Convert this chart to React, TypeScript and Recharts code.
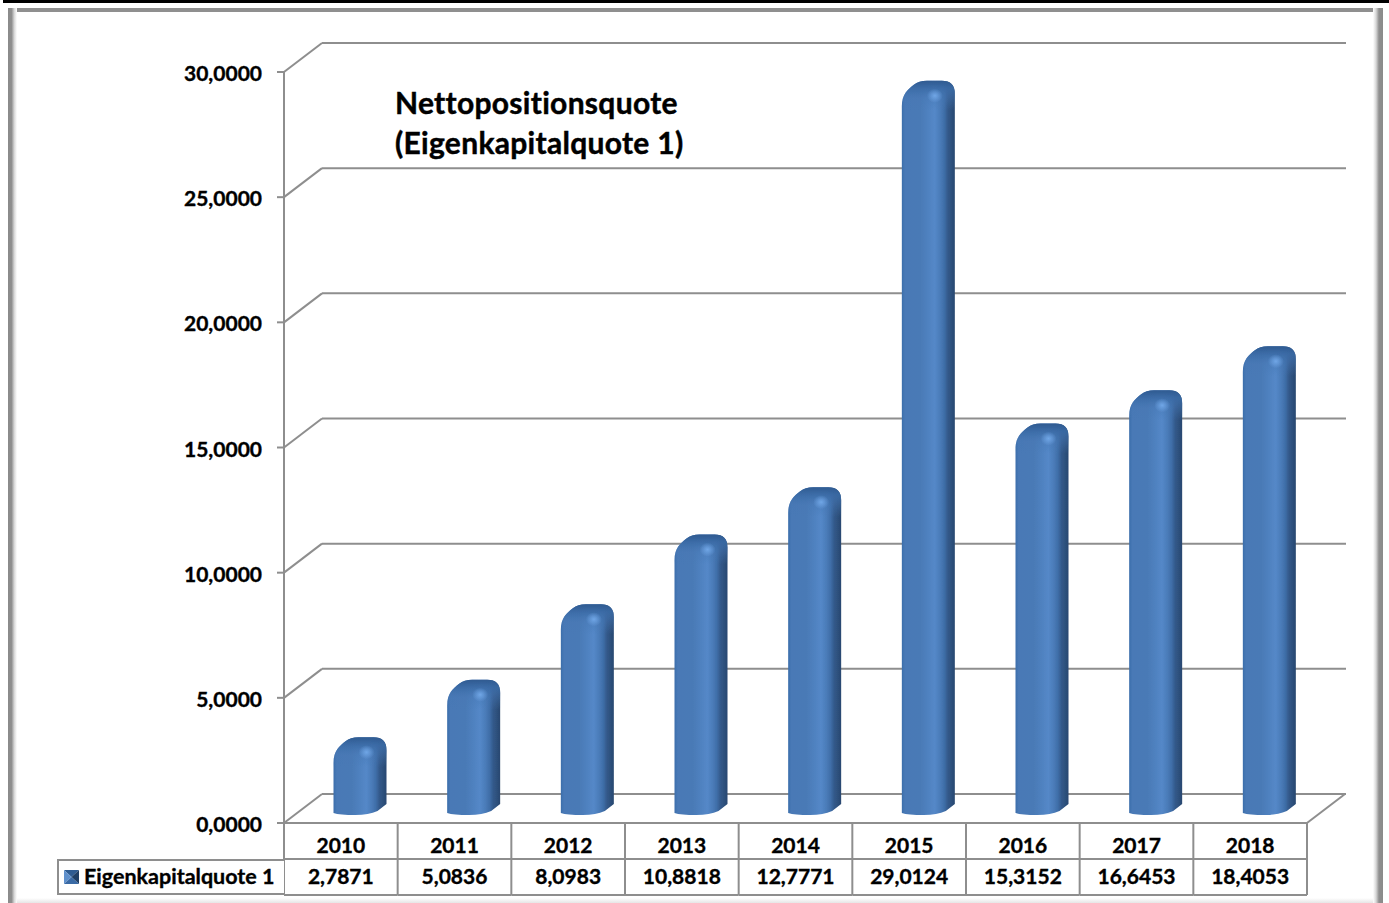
import React from "react";
import { BarChart, Bar, XAxis, YAxis, Legend, CartesianGrid } from "recharts";

const categories = ["2010", "2011", "2012", "2013", "2014", "2015", "2016", "2017", "2018"];
const values = [2.7871, 5.0836, 8.0983, 10.8818, 12.7771, 29.0124, 15.3152, 16.6453, 18.4053];
const valueLabels = ["2,7871", "5,0836", "8,0983", "10,8818", "12,7771", "29,0124", "15,3152", "16,6453", "18,4053"];
const yTicks = [0, 5, 10, 15, 20, 25, 30];
const yTickLabels = ["0,0000", "5,0000", "10,0000", "15,0000", "20,0000", "25,0000", "30,0000"];
const seriesName = "Eigenkapitalquote 1";
const titleLines = ["Nettopositionsquote", "(Eigenkapitalquote 1)"];

const data = categories.map((year, i) => ({ year, value: values[i] }));

const FONT = "Lato, Carlito, Calibri, sans-serif";
const LINE = "#8e8e8e";
const W = 1389;
const H = 903;
const LEFT = 284;
const RIGHT = 1307;
const TOP = 72;
const ZERO = 823;
const DX = 38;
const DY = 29;
const BAND = (RIGHT - LEFT) / categories.length;

const textStyle: any = { fontVariantLigatures: "none", paintOrder: "stroke" };
const labelProps: any = {
  fontFamily: FONT,
  fontWeight: 700,
  fontSize: 21,
  fill: "#000",
  stroke: "#000",
  strokeWidth: 0.35,
  style: textStyle,
};

function GridRow(props: any) {
  const y = props.y1;
  const isZero = Math.abs(y - ZERO) < 1;
  return (
    <g>
      <line x1={LEFT} y1={y} x2={LEFT + DX} y2={y - DY} stroke={LINE} strokeWidth={2} />
      <line x1={LEFT + DX} y1={y - DY} x2={RIGHT + DX + 1} y2={y - DY} stroke={LINE} strokeWidth={2} />
      {isZero && <line x1={RIGHT} y1={y} x2={RIGHT + DX} y2={y - DY} stroke={LINE} strokeWidth={2} />}
    </g>
  );
}

function YTick(props: any) {
  const { y, payload } = props;
  const idx = yTicks.indexOf(payload.value);
  return (
    <g>
      <line x1={LEFT - 7} y1={y} x2={LEFT} y2={y} stroke={LINE} strokeWidth={2} />
      <text x={262} y={y + 9} textAnchor="end" {...labelProps}>
        {yTickLabels[idx]}
      </text>
    </g>
  );
}

function XTick(props: any) {
  const { x, payload, index } = props;
  const i = index ?? categories.indexOf(payload.value);
  const left = x - BAND / 2;
  return (
    <g>
      <line x1={left + BAND} y1={ZERO} x2={left + BAND} y2={895} stroke={LINE} strokeWidth={2} />
      {i === 0 && <line x1={left} y1={ZERO} x2={left} y2={895} stroke={LINE} strokeWidth={2} />}
      <line x1={left} y1={859} x2={left + BAND} y2={859} stroke={LINE} strokeWidth={2} />
      <line x1={left} y1={895} x2={left + BAND} y2={895} stroke={LINE} strokeWidth={2} />
      <text x={x} y={853} textAnchor="middle" {...labelProps}>
        {payload.value}
      </text>
      <text x={x} y={884} textAnchor="middle" {...labelProps}>
        {valueLabels[i]}
      </text>
    </g>
  );
}

function Bar3D(props: any) {
  const { x, y, width } = props;
  const x0 = x + 19.5;
  const x1 = x0 + width;
  const top = y - 16;
  const bottom = ZERO - 8;
  const topEdge = `M${x0},${top + 26} C${x0},${top + 13} ${x0 + 6},${top + 9} ${x0 + 12},${top + 4} Q${x0 + 17},${top} ${x0 + 25},${top}
    L${x1 - 13},${top} Q${x1},${top} ${x1},${top + 13}`;
  const outline = `${topEdge}
    L${x1},${bottom - 11} L${x1 - 9},${bottom - 4} Q${x1 - 18},${bottom} ${x0 + 22},${bottom} Q${x0 + 6},${bottom} ${x0},${bottom - 2} Z`;
  const cap = `${topEdge} L${x1},${top + 30} L${x0},${top + 30} Z`;
  return (
    <g filter="url(#barSoft)">
      <path d={outline} fill="url(#barBody)" />
      <path d={cap} fill="url(#barCap)" />
      <ellipse cx={x0 + 33} cy={top + 15} rx={8} ry={7} fill="url(#barGlow)" />
    </g>
  );
}

function LegendBox(props: any) {
  const item = props.payload?.[0];
  return (
    <div
      style={{
        position: "relative",
        width: 227,
        height: 36,
        boxSizing: "border-box",
        borderLeft: `2px solid ${LINE}`,
        borderTop: `2px solid ${LINE}`,
        borderBottom: `2px solid ${LINE}`,
        background: "#fff",
      }}
    >
      <svg width={15} height={14} style={{ position: "absolute", left: 5, top: 9 }}>
        <polygon points="0,0 15,0 7.5,7" fill="#2f5c92" />
        <polygon points="0,0 0,14 7.5,7" fill="#5f90cc" />
        <polygon points="15,0 15,14 7.5,7" fill="#1f3f66" />
        <polygon points="0,14 15,14 7.5,7" fill="#3a6aa5" />
      </svg>
      <span
        style={{
          position: "absolute",
          left: 25,
          top: 2,
          fontFamily: FONT,
          fontWeight: 700,
          fontSize: 21.5,
          lineHeight: "26px",
          color: "#000",
          whiteSpace: "nowrap",
          fontVariantLigatures: "none",
          WebkitTextStroke: "0.35px #000",
        }}
      >
        {item?.value ?? seriesName}
      </span>
    </div>
  );
}

export default function App() {
  return (
    <div style={{ position: "absolute", left: 0, top: 0, width: W, height: H, background: "#fff", overflow: "hidden" }}>
      <div style={{ position: "absolute", left: 3, right: 0, top: 0, height: 3, background: "#000" }} />
      <div style={{ position: "absolute", left: 8, right: 6, top: 8, height: 4, background: "#8f8f8f" }} />
      <div style={{ position: "absolute", left: 8, width: 9, top: 8, bottom: 0, background: "linear-gradient(to right,#8a8a8a 0%,#8f8f8f 40%,#d8d8d8 70%,#ffffff 100%)" }} />
      <div style={{ position: "absolute", right: 6, width: 10, top: 8, bottom: 0, background: "linear-gradient(to left,#8a8a8a 0%,#8f8f8f 40%,#d8d8d8 70%,#ffffff 100%)" }} />
      <div style={{ position: "absolute", left: 17, right: 16, bottom: 0, height: 5, background: "linear-gradient(to bottom,#ffffff,#e6e6e6)" }} />
      <BarChart
        width={W}
        height={H}
        data={data}
        margin={{ left: 0, right: W - RIGHT, top: TOP, bottom: 0 }}
        barSize={53}
        style={{ position: "absolute", left: 0, top: 0 }}
      >
        <defs>
          <linearGradient id="barBody" x1="0" y1="0" x2="1" y2="0">
            <stop offset="0%" stopColor="#3c6eab" />
            <stop offset="6%" stopColor="#4879b6" />
            <stop offset="35%" stopColor="#4a7ab6" />
            <stop offset="62%" stopColor="#5488c8" />
            <stop offset="72%" stopColor="#4b7cb9" />
            <stop offset="80%" stopColor="#3f6ea8" />
            <stop offset="87%" stopColor="#33598a" />
            <stop offset="100%" stopColor="#284870" />
          </linearGradient>
          <linearGradient id="barCap" x1="0" y1="0" x2="0" y2="1">
            <stop offset="0%" stopColor="#2f5a90" />
            <stop offset="25%" stopColor="#3a6aa5" stopOpacity={0.9} />
            <stop offset="60%" stopColor="#4677b4" stopOpacity={0.4} />
            <stop offset="100%" stopColor="#4677b4" stopOpacity={0} />
          </linearGradient>
          <radialGradient id="barGlow">
            <stop offset="0%" stopColor="#70a6e6" />
            <stop offset="100%" stopColor="#70a6e6" stopOpacity={0} />
          </radialGradient>
          <filter id="barSoft" x="-5%" y="-5%" width="110%" height="110%">
            <feGaussianBlur stdDeviation="0.6" />
          </filter>
        </defs>
        <CartesianGrid
          vertical={false}
          horizontal={(p: any) => <GridRow key={p.key ?? p.y1} {...p} />}
          horizontalValues={yTicks}
        />
        <XAxis
          dataKey="year"
          type="category"
          height={H - ZERO}
          axisLine={{ stroke: LINE, strokeWidth: 2 }}
          tickLine={false}
          interval={0}
          tick={<XTick />}
        />
        <YAxis
          type="number"
          domain={[0, 30]}
          ticks={yTicks}
          width={LEFT}
          axisLine={{ stroke: LINE, strokeWidth: 2 }}
          tickLine={false}
          interval={0}
          tick={<YTick />}
        />
        <Legend
          layout="vertical"
          align="center"
          verticalAlign="middle"
          wrapperStyle={{ left: 57, top: 859, width: 227, height: 36, margin: 0 }}
          content={<LegendBox />}
        />
        <Bar dataKey="value" name={seriesName} fill="#4f81bd" isAnimationActive={false} shape={<Bar3D />} />
      </BarChart>
      <div
        style={{
          position: "absolute",
          left: 395,
          top: 82,
          fontFamily: FONT,
          fontWeight: 700,
          fontSize: 30,
          lineHeight: "40px",
          letterSpacing: 0.3,
          color: "#000",
          whiteSpace: "nowrap",
          fontVariantLigatures: "none",
          WebkitTextStroke: "0.45px #000",
        }}
      >
        {titleLines.map((t) => (
          <div key={t}>{t}</div>
        ))}
      </div>
    </div>
  );
}
